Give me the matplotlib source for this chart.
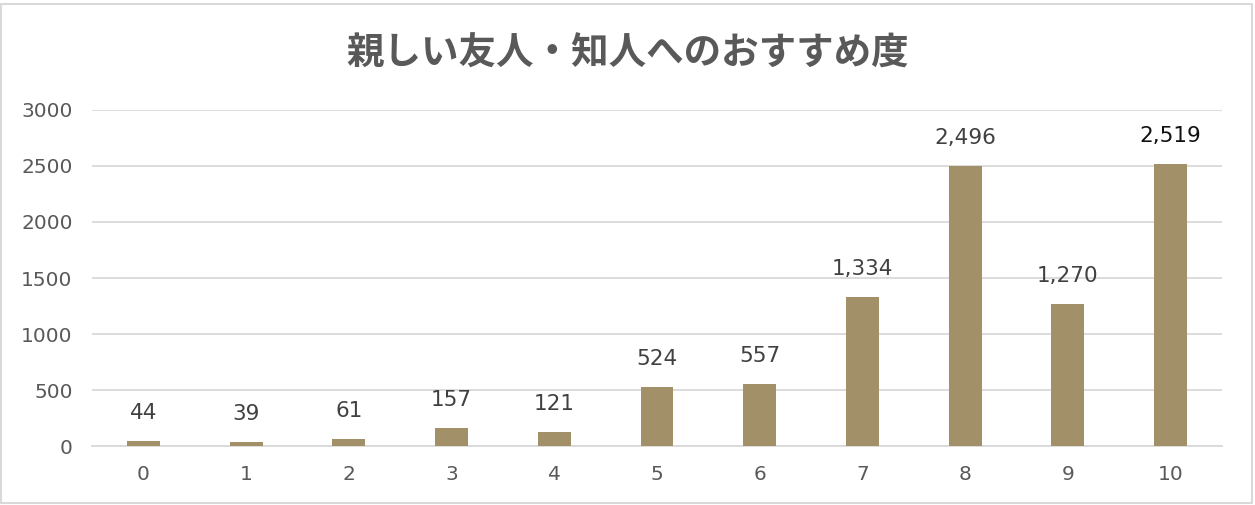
import matplotlib.pyplot as plt
import numpy as np

plt.rcParams['font.family'] = ['DejaVu Sans']

# --- data ---
scores = ['0', '1', '2', '3', '4', '5', '6', '7', '8', '9', '10']
counts = [44, 39, 61, 157, 121, 524, 557, 1334, 2496, 1270, 2519]
yticks = [0, 500, 1000, 1500, 2000, 2500, 3000]
title = '親しい友人・知人へのおすすめ度'

barColor = '#A29168'
gridColor = '#D9D9D9'
textColor = '#595959'

fig = plt.figure(figsize=(12.55, 5.05), dpi=100)
ax = fig.add_axes([0.0733, 0.1168, 0.9004, 0.6654])

x = np.arange(len(scores))
bars = ax.bar(x, counts, width=0.32, color=barColor, zorder=3)

for i, (rect, val) in enumerate(zip(bars, counts)):
    col = '#111111' if i == len(counts) - 1 else '#404040'
    ax.annotate('{:,}'.format(val), (rect.get_x() + rect.get_width() / 2, val),
                xytext=(0, 13), textcoords='offset points', ha='center', va='bottom',
                fontsize=15.5, color=col)

ax.set_xlim(-0.5, len(scores) - 0.5)
ax.set_ylim(0, 3000)
ax.set_yticks(yticks)
ax.set_xticks(x)
ax.set_xticklabels(scores)
ax.tick_params(axis='both', length=0, labelsize=14.5, labelcolor=textColor)
ax.tick_params(axis='x', pad=14)
ax.tick_params(axis='y', pad=14)
ax.grid(axis='y', color=gridColor, linewidth=1.3, zorder=0)
for side in ['top', 'right', 'left']:
    ax.spines[side].set_visible(False)
ax.spines['bottom'].set_color(gridColor)
ax.spines['bottom'].set_linewidth(1.3)

fig.text(0.5, 0.895, title, ha='center', va='center', fontsize=27,
         fontweight='bold', color=textColor, family=['Noto Sans CJK JP', 'DejaVu Sans'])

# outer frame
fig.patches.append(plt.Rectangle((0.001, 0.003), 0.997, 0.99, transform=fig.transFigure,
                                 fill=False, edgecolor='#D9D9D9', linewidth=1.5))

fig.savefig('out.png', dpi=100)
plt.close('all')
